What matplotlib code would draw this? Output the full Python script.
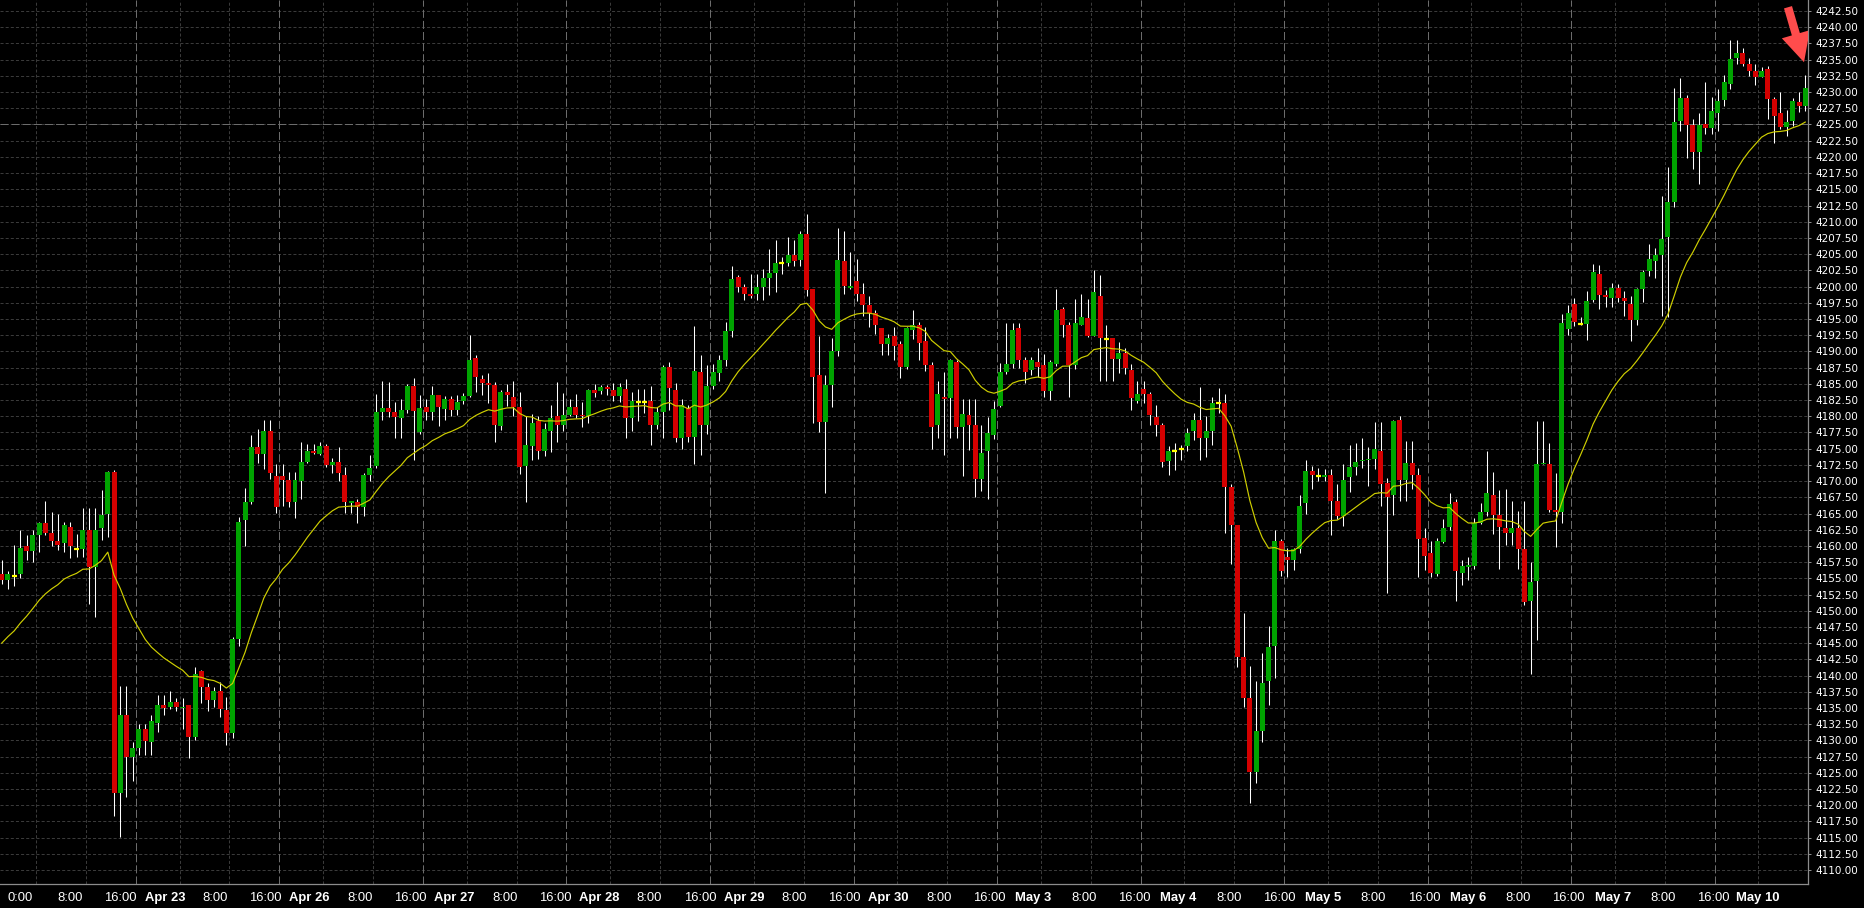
import matplotlib
matplotlib.use('Agg')
import matplotlib.pyplot as plt
import numpy as np
import pandas as pd

# hourly OHLC, first bar = Apr 21 18:00, last bar = May 10 07:00
opens = [
    4155.6, 4154.8, 4155.3, 4155.6, 4160.0, 4159.2, 4161.7, 4163.5, 4162.0, 4160.8,
    4160.5, 4162.9, 4159.5, 4159.5, 4162.4, 4156.8, 4162.8, 4164.9, 4171.4, 4121.9,
    4133.9, 4127.5, 4128.9, 4131.7, 4129.8, 4132.7, 4135.4, 4135.2, 4135.9, 4135.0,
    4135.4, 4130.5, 4140.7, 4138.3, 4136.2, 4137.7, 4134.7, 4131.1, 4145.6, 4164.0,
    4166.8, 4175.2, 4174.2, 4177.7, 4170.8, 4170.8, 4170.1, 4166.8, 4170.0, 4172.9,
    4174.6, 4174.2, 4175.4, 4172.5, 4172.9, 4170.9, 4166.6, 4166.8, 4166.0, 4170.9,
    4172.3, 4180.7, 4181.3, 4180.7, 4179.8, 4181.0, 4184.7, 4177.5, 4181.4, 4180.6,
    4183.3, 4181.1, 4182.6, 4181.0, 4182.3, 4183.1, 4189.0, 4185.8, 4185.1, 4184.8,
    4178.5, 4183.8, 4183.0, 4181.5, 4172.3, 4175.4, 4179.3, 4174.7, 4177.8, 4180.1,
    4178.7, 4180.2, 4181.4, 4180.2, 4180.1, 4184.0, 4183.9, 4184.5, 4184.0, 4183.1,
    4184.2, 4179.8, 4182.2, 4182.2, 4182.3, 4178.6, 4180.7, 4187.6, 4184.0, 4176.6,
    4181.3, 4176.8, 4186.8, 4178.6, 4184.7, 4186.6, 4188.6, 4193.2, 4201.5, 4200.0,
    4198.8, 4198.8, 4199.9, 4201.3, 4202.1, 4203.6, 4203.6, 4204.9, 4204.1, 4208.1,
    4199.6, 4186.3, 4179.1, 4184.8, 4190.0, 4204.0, 4199.8, 4200.8, 4198.8, 4197.1,
    4195.9, 4193.6, 4191.1, 4192.4, 4191.1, 4187.6, 4193.3, 4194.0, 4191.6, 4187.9,
    4178.6, 4183.0, 4182.8, 4188.3, 4178.4, 4180.2, 4178.6, 4170.3, 4174.6, 4177.1,
    4181.6, 4186.8, 4188.0, 4193.6, 4188.7, 4187.1, 4188.3, 4187.9, 4183.9, 4188.0,
    4196.6, 4194.0, 4187.9, 4194.1, 4195.1, 4192.4, 4198.5, 4191.9, 4192.0, 4188.8,
    4189.8, 4187.2, 4182.3, 4184.2, 4183.5, 4179.9, 4178.7, 4173.1, 4174.6, 4174.9,
    4175.4, 4177.8, 4179.5, 4176.6, 4177.8, 4182.0, 4182.1, 4169.1, 4163.3, 4142.9,
    4136.6, 4125.1, 4131.5, 4139.1, 4144.5, 4160.7, 4158.3, 4157.8, 4159.5, 4166.6,
    4171.5, 4170.8, 4170.6, 4170.9, 4167.0, 4164.6, 4170.6, 4172.1, 4173.1, 4173.2,
    4173.4, 4174.7, 4169.7, 4167.8, 4179.5, 4170.2, 4172.8, 4170.9, 4161.2, 4158.9,
    4155.6, 4160.6, 4162.9, 4166.8, 4155.8, 4156.8, 4156.9, 4163.5, 4165.3, 4167.8,
    4164.8, 4162.7, 4162.0, 4162.7, 4159.5, 4151.5, 4154.6, 4172.6, 4172.6, 4165.6,
    4165.2, 4193.4, 4197.3, 4194.3, 4194.2, 4197.9, 4202.0, 4198.7, 4198.3, 4199.8,
    4198.3, 4197.3, 4194.9, 4199.7, 4202.4, 4203.9, 4204.9, 4207.6, 4213.0, 4225.6,
    4229.1, 4224.9, 4220.8, 4225.1, 4224.4, 4226.8, 4228.7, 4231.3, 4235.2, 4236.1,
    4234.3, 4233.2, 4232.4, 4233.6, 4228.9, 4226.7, 4224.6, 4225.5, 4228.4, 4227.9,
]
highs = [
    4157.9, 4156.2, 4160.1, 4162.4, 4161.7, 4162.4, 4163.7, 4166.9, 4165.2, 4164.9,
    4163.7, 4163.7, 4161.8, 4165.9, 4165.9, 4165.8, 4168.6, 4171.6, 4171.7, 4138.4,
    4138.4, 4129.8, 4132.5, 4132.5, 4133.9, 4137.0, 4137.0, 4137.7, 4136.6, 4136.5,
    4135.4, 4141.4, 4140.9, 4138.8, 4138.3, 4139.0, 4136.7, 4146.0, 4164.4, 4168.9,
    4177.1, 4178.1, 4179.4, 4179.4, 4172.7, 4172.7, 4171.4, 4171.4, 4176.1, 4175.7,
    4175.7, 4176.1, 4175.7, 4173.5, 4175.3, 4172.2, 4166.9, 4167.2, 4171.3, 4174.1,
    4183.5, 4185.5, 4185.3, 4182.2, 4182.6, 4185.0, 4185.9, 4183.3, 4182.6, 4184.7,
    4183.3, 4183.1, 4183.2, 4183.3, 4183.6, 4192.6, 4189.5, 4186.3, 4186.7, 4185.3,
    4184.1, 4184.9, 4185.5, 4183.8, 4180.0, 4180.4, 4180.0, 4178.9, 4181.8, 4185.3,
    4183.6, 4182.6, 4183.5, 4182.2, 4184.2, 4184.9, 4184.8, 4184.8, 4185.2, 4185.1,
    4185.7, 4183.7, 4184.2, 4184.2, 4184.7, 4181.4, 4187.9, 4188.3, 4185.1, 4182.6,
    4181.8, 4193.9, 4189.5, 4187.9, 4188.0, 4189.4, 4194.6, 4203.2, 4201.8, 4200.4,
    4201.9, 4201.9, 4202.7, 4205.8, 4207.2, 4204.5, 4207.7, 4207.2, 4208.6, 4211.2,
    4199.6, 4192.4, 4186.3, 4192.0, 4209.1, 4208.6, 4205.4, 4204.2, 4200.5, 4198.5,
    4196.4, 4193.6, 4192.7, 4193.8, 4191.6, 4193.8, 4196.4, 4194.5, 4193.8, 4188.3,
    4185.5, 4186.9, 4188.8, 4188.7, 4182.7, 4182.7, 4182.7, 4178.6, 4179.9, 4182.4,
    4188.2, 4194.4, 4194.4, 4194.4, 4189.2, 4189.2, 4190.5, 4189.6, 4188.7, 4199.6,
    4196.9, 4194.6, 4198.1, 4198.8, 4198.1, 4202.5, 4201.8, 4194.0, 4192.0, 4191.4,
    4190.5, 4188.0, 4185.4, 4185.4, 4183.7, 4181.8, 4179.0, 4175.4, 4175.8, 4175.6,
    4178.2, 4180.5, 4184.5, 4180.0, 4183.0, 4184.3, 4183.5, 4169.5, 4163.3, 4149.7,
    4141.5, 4139.1, 4143.5, 4147.7, 4162.5, 4161.0, 4159.7, 4159.7, 4167.8, 4173.3,
    4172.4, 4172.0, 4171.8, 4171.8, 4169.5, 4172.7, 4175.5, 4175.8, 4176.7, 4175.3,
    4179.1, 4179.1, 4170.5, 4179.5, 4180.1, 4176.2, 4176.2, 4172.0, 4162.8, 4160.7,
    4161.2, 4164.2, 4168.1, 4167.2, 4157.8, 4158.3, 4164.3, 4166.6, 4174.6, 4171.4,
    4168.6, 4168.8, 4166.9, 4165.4, 4166.9, 4157.5, 4179.3, 4179.3, 4175.8, 4171.2,
    4195.7, 4197.1, 4198.2, 4195.3, 4199.3, 4203.5, 4203.3, 4199.5, 4200.6, 4200.4,
    4199.3, 4198.5, 4199.8, 4202.5, 4206.5, 4205.9, 4213.9, 4218.4, 4230.6, 4232.1,
    4229.5, 4225.9, 4226.7, 4231.6, 4229.2, 4230.4, 4232.7, 4238.0, 4238.0, 4236.8,
    4235.3, 4234.3, 4233.8, 4234.0, 4229.2, 4230.0, 4227.3, 4229.1, 4230.0, 4232.7,
]
lows = [
    4154.2, 4153.4, 4153.8, 4155.1, 4157.9, 4157.5, 4159.1, 4161.7, 4160.0, 4159.4,
    4159.1, 4158.2, 4158.3, 4158.3, 4151.0, 4149.1, 4160.9, 4161.4, 4118.4, 4115.1,
    4121.3, 4123.7, 4127.7, 4127.7, 4127.7, 4131.3, 4133.9, 4134.9, 4134.5, 4131.8,
    4127.3, 4130.0, 4135.8, 4134.5, 4135.2, 4133.6, 4129.3, 4130.4, 4144.6, 4160.0,
    4166.4, 4172.8, 4171.9, 4170.4, 4165.1, 4166.1, 4166.0, 4164.3, 4167.3, 4172.8,
    4174.2, 4174.0, 4172.2, 4171.3, 4170.0, 4165.1, 4165.1, 4163.6, 4164.6, 4170.0,
    4172.0, 4179.4, 4179.9, 4176.6, 4176.6, 4180.5, 4173.2, 4177.2, 4179.4, 4179.4,
    4178.5, 4179.4, 4180.1, 4180.2, 4181.9, 4183.0, 4183.7, 4183.3, 4182.0, 4176.1,
    4177.9, 4181.6, 4180.0, 4171.1, 4166.7, 4173.2, 4173.4, 4173.8, 4174.5, 4176.0,
    4177.7, 4180.0, 4179.7, 4178.4, 4178.9, 4183.0, 4183.5, 4183.3, 4182.3, 4182.2,
    4176.6, 4177.7, 4179.2, 4180.5, 4175.6, 4178.0, 4176.6, 4180.9, 4176.0, 4174.9,
    4176.0, 4172.7, 4174.1, 4177.2, 4184.2, 4185.4, 4187.7, 4192.2, 4199.1, 4198.0,
    4198.2, 4198.0, 4198.0, 4198.7, 4199.1, 4201.9, 4203.1, 4203.2, 4203.1, 4198.5,
    4179.0, 4177.5, 4168.1, 4181.5, 4189.3, 4198.8, 4199.6, 4197.8, 4195.4, 4193.8,
    4192.7, 4189.4, 4189.4, 4188.7, 4185.9, 4187.3, 4191.9, 4188.7, 4187.0, 4175.0,
    4176.6, 4174.1, 4176.7, 4176.7, 4170.8, 4174.8, 4167.5, 4168.5, 4167.3, 4176.5,
    4181.5, 4186.5, 4187.4, 4187.4, 4185.1, 4186.3, 4186.0, 4183.0, 4182.5, 4187.8,
    4192.3, 4183.0, 4187.3, 4194.0, 4192.2, 4192.4, 4185.5, 4185.5, 4185.5, 4186.7,
    4186.5, 4181.0, 4182.1, 4182.1, 4178.7, 4176.9, 4172.1, 4170.9, 4171.7, 4173.3,
    4174.6, 4176.3, 4173.2, 4173.7, 4175.6, 4180.5, 4162.0, 4157.2, 4141.4, 4135.2,
    4120.4, 4123.4, 4129.7, 4135.5, 4139.6, 4155.3, 4155.2, 4156.3, 4158.9, 4165.0,
    4168.8, 4170.0, 4170.0, 4161.7, 4164.1, 4163.1, 4168.3, 4170.9, 4172.0, 4169.3,
    4171.8, 4166.1, 4152.8, 4164.8, 4166.9, 4166.9, 4168.8, 4155.2, 4156.3, 4155.2,
    4155.3, 4160.5, 4162.5, 4151.5, 4154.0, 4154.7, 4156.5, 4163.4, 4164.6, 4161.8,
    4156.5, 4160.2, 4160.2, 4156.5, 4150.9, 4140.2, 4145.5, 4172.6, 4165.3, 4159.8,
    4163.5, 4192.5, 4193.9, 4194.1, 4191.8, 4197.6, 4196.6, 4196.9, 4196.9, 4197.6,
    4195.5, 4191.6, 4194.1, 4197.6, 4201.6, 4201.4, 4195.5, 4195.3, 4212.3, 4224.0,
    4219.9, 4218.2, 4215.8, 4223.5, 4223.5, 4224.0, 4227.8, 4230.5, 4234.3, 4234.0,
    4232.5, 4231.1, 4232.3, 4225.8, 4222.1, 4224.3, 4223.3, 4224.7, 4227.0, 4227.1,
]
closes = [
    4154.8, 4155.6, 4155.3, 4159.7, 4159.2, 4161.7, 4163.5, 4162.0, 4160.8, 4160.1,
    4163.2, 4160.0, 4159.5, 4162.4, 4156.8, 4162.4, 4164.7, 4171.4, 4121.9, 4133.9,
    4127.5, 4128.9, 4131.7, 4129.9, 4133.0, 4135.4, 4135.0, 4135.9, 4135.2, 4135.2,
    4130.5, 4140.3, 4138.3, 4136.2, 4137.7, 4134.8, 4131.1, 4145.6, 4163.7, 4166.7,
    4175.2, 4174.2, 4177.7, 4171.3, 4166.0, 4170.1, 4166.8, 4170.1, 4172.9, 4174.6,
    4174.4, 4175.4, 4172.5, 4172.9, 4171.3, 4166.8, 4166.9, 4166.0, 4170.9, 4172.0,
    4180.7, 4181.3, 4180.6, 4179.9, 4181.0, 4184.6, 4180.8, 4181.3, 4180.6, 4183.3,
    4181.4, 4182.6, 4181.0, 4182.2, 4183.1, 4188.7, 4186.0, 4185.1, 4184.8, 4178.7,
    4183.8, 4183.3, 4181.5, 4172.1, 4175.5, 4179.0, 4174.7, 4178.1, 4179.7, 4178.7,
    4180.2, 4181.4, 4180.2, 4180.0, 4184.0, 4183.6, 4184.5, 4184.2, 4183.1, 4184.5,
    4179.8, 4182.3, 4182.2, 4182.2, 4178.6, 4180.7, 4187.6, 4184.3, 4176.6, 4181.8,
    4176.8, 4187.0, 4178.7, 4184.7, 4186.8, 4188.6, 4193.2, 4201.2, 4200.0, 4198.8,
    4198.6, 4199.9, 4201.3, 4202.1, 4203.6, 4203.6, 4204.9, 4204.0, 4208.1, 4199.4,
    4186.1, 4179.1, 4184.8, 4190.0, 4204.1, 4200.1, 4200.1, 4198.8, 4197.1, 4195.9,
    4194.0, 4191.1, 4192.0, 4190.8, 4187.6, 4193.6, 4194.0, 4191.3, 4187.9, 4178.4,
    4183.4, 4182.6, 4188.7, 4178.4, 4180.3, 4178.6, 4170.3, 4174.3, 4177.4, 4181.1,
    4186.8, 4188.0, 4193.3, 4188.7, 4186.9, 4188.7, 4187.6, 4183.9, 4188.3, 4196.4,
    4194.0, 4187.9, 4194.4, 4195.3, 4192.4, 4199.1, 4192.0, 4191.9, 4188.8, 4189.8,
    4187.5, 4182.8, 4183.5, 4183.5, 4180.2, 4178.7, 4172.9, 4174.7, 4174.6, 4174.9,
    4177.4, 4179.5, 4176.6, 4177.8, 4182.1, 4182.0, 4169.1, 4163.3, 4142.9, 4136.6,
    4125.1, 4131.5, 4138.8, 4144.4, 4160.7, 4156.1, 4157.8, 4159.5, 4166.2, 4171.5,
    4170.9, 4170.8, 4170.9, 4167.0, 4164.6, 4170.2, 4172.1, 4173.0, 4173.3, 4173.4,
    4175.0, 4169.5, 4167.5, 4179.3, 4170.2, 4172.8, 4170.9, 4161.0, 4158.4, 4155.8,
    4160.8, 4162.8, 4166.5, 4156.1, 4156.9, 4157.0, 4163.5, 4165.3, 4168.1, 4164.8,
    4162.9, 4162.0, 4162.7, 4159.5, 4151.4, 4154.5, 4172.6, 4172.8, 4165.6, 4165.2,
    4194.4, 4196.0, 4194.5, 4194.3, 4197.8, 4202.2, 4198.7, 4198.4, 4199.8, 4198.3,
    4197.7, 4194.9, 4199.7, 4202.2, 4204.2, 4204.9, 4207.4, 4213.0, 4225.4, 4229.1,
    4224.9, 4220.7, 4224.9, 4224.4, 4227.1, 4228.6, 4231.5, 4235.1, 4236.1, 4234.3,
    4233.2, 4232.4, 4233.3, 4228.9, 4226.3, 4224.6, 4225.4, 4228.6, 4227.9, 4230.6,
]

ma_start = 4145.0      # moving average value at the left edge
ma_span = 20
ref_price = 4225.0     # dashed horizontal marker line

day_names = ['Apr 22', 'Apr 23', 'Apr 26', 'Apr 27', 'Apr 28', 'Apr 29', 'Apr 30',
             'May 3', 'May 4', 'May 5', 'May 6', 'May 7', 'May 10']
first_midnight_bar = 6
bars_per_day = 23
session_hours = [0, 8, 16]
price_ticks = np.arange(4110.0, 4242.51, 2.5)

GREEN = '#00a300'
RED = '#d40000'
DOJI = '#ffff00'
MA_COLOR = '#cfcf00'
GRID = '#3a3a3a'
GRID_BRIGHT = '#6c6c6c'
AXIS = '#8c8c8c'

plt.rcParams['lines.scale_dashes'] = False

o, h, l, c = (np.array(v) for v in (opens, highs, lows, closes))
x = np.arange(len(c))

fig = plt.figure(figsize=(18.65, 9.08), dpi=100, facecolor='black')
ax = fig.add_axes([0, 24 / 908, 1808 / 1865, 884 / 908])
ax.set_facecolor('black')
ax.set_xlim(-0.27, 289.44)
ax.set_ylim(4107.86, 4244.2)

# grid
for p in price_ticks:
    ax.axhline(p, color=GRID, lw=0.72, ls=(0, (2.2, 1.5)), zorder=0)
ax.axhline(ref_price, color=GRID_BRIGHT, lw=0.72, ls=(0, (5.8, 2.2)), zorder=0.5)

tick_pos, tick_txt, tick_bold = [], [], []
n_labels = len(day_names) * 3 - 2
k = 0
for d, name in enumerate(day_names):
    start = first_midnight_bar + d * bars_per_day
    for hr in session_hours:
        b = start + hr - 0.5
        if b > x[-1]:
            continue
        if hr == 16:
            ax.axvline(b, color=GRID_BRIGHT, lw=0.72, ls=(0, (5.8, 2.2)), zorder=0.5)
        else:
            ax.axvline(b, color=GRID, lw=0.72, ls=(0, (2.2, 1.5)), zorder=0)
        txt = f'{hr}:00' if hr else (name if d > 0 else '0:00')
        shift = 2.56 - 2.4 * k / (n_labels - 1)
        tick_pos.append(b - shift)
        tick_txt.append(txt)
        tick_bold.append(hr == 0 and d > 0)
        k += 1

# candles
ax.vlines(x, l, h, color='white', lw=0.75, zorder=2)
up = c > o
dn = c < o
flat = c == o
body = np.maximum(np.abs(c - o), 0.15)
ax.bar(x[up], body[up], bottom=o[up], width=0.8, color=GREEN, linewidth=0, zorder=3)
ax.bar(x[dn], body[dn], bottom=c[dn], width=0.8, color=RED, linewidth=0, zorder=3)
ax.hlines(o[flat], x[flat] - 0.4, x[flat] + 0.4, color=DOJI, lw=1.6, zorder=3)

# exponential moving average of closes
ma = pd.Series([ma_start] + closes[1:]).ewm(span=ma_span, adjust=False).mean()
ax.plot(x, ma, color=MA_COLOR, lw=0.85, zorder=4)

# axes styling
ax.yaxis.tick_right()
ax.set_yticks(price_ticks, [f'{p:.2f}' for p in price_ticks])
ax.tick_params(axis='y', length=2, width=0.72, color=AXIS, labelcolor='white',
               labelsize=7.5, pad=3)
ax.set_xticks(tick_pos, tick_txt)
ax.tick_params(axis='x', length=0, labelcolor='white', labelsize=9.4, pad=6)
for lab, bold in zip(ax.get_xticklabels(), tick_bold):
    lab.set_fontfamily('Liberation Sans')
    if bold:
        lab.set_fontweight('bold')
for s in ('top', 'left'):
    ax.spines[s].set_visible(False)
for s in ('right', 'bottom'):
    ax.spines[s].set_color(AXIS)
    ax.spines[s].set_linewidth(0.9)

# red marker arrow pointing at the last bar
ann = ax.annotate('', xy=(x[-1] - 0.2, h[-1] + 1.9), xytext=(-16, 55),
                  textcoords='offset pixels',
                  arrowprops=dict(arrowstyle='simple,head_length=1.75,head_width=1.75,tail_width=0.5',
                                  color='#ff4c4c', mutation_scale=12, shrinkA=0, shrinkB=0,
                                  lw=0),
                  annotation_clip=False)
ann.arrow_patch.set_clip_path(ax.patch)
ann.arrow_patch.set_zorder(6)

fig.savefig('out.png', dpi=100, facecolor='black')
